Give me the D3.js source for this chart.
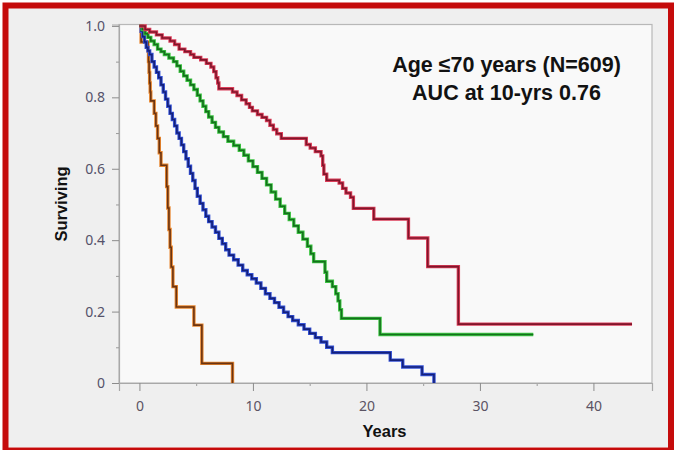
<!DOCTYPE html>
<html>
<head>
<meta charset="utf-8">
<script src="https://cdn.jsdelivr.net/npm/d3@7"></script>
<style>
  body { margin: 0; background: #ffffff; }
  svg { display: block; }
</style>
</head>
<body>
<svg id="chart" width="674" height="450"></svg>
<script>
// Kaplan–Meier survival estimates, four risk strata (time in years, survival fraction)
const orangeYears = [0, 0.15, 0.75, 0.8, 0.85, 0.9, 0.95, 1.0, 1.3, 1.45, 1.6, 1.75, 1.9, 2.4, 2.5, 2.6, 2.7, 2.8, 2.95, 3.25, 4.8, 5.5, 8.2];
const orangeSurv  = [1.0, 0.955, 0.93, 0.90, 0.87, 0.84, 0.815, 0.79, 0.755, 0.72, 0.685, 0.645, 0.61, 0.55, 0.49, 0.43, 0.38, 0.325, 0.27, 0.213, 0.162, 0.055, 0.0];

const blueYears = [0, 0.15, 0.3, 0.45, 0.6, 0.75, 0.9, 1.1, 1.3, 1.5, 1.7, 1.9, 2.1, 2.3, 2.5, 2.7, 2.9, 3.1, 3.3, 3.5, 3.7, 3.9, 4.1, 4.3, 4.5, 4.7, 4.9, 5.1, 5.35, 5.6, 5.85, 6.1, 6.4, 6.7, 7.0, 7.3, 7.6, 7.9, 8.3, 8.7, 9.1, 9.5, 9.9, 10.3, 10.7, 11.1, 11.5, 11.9, 12.3, 12.7, 13.1, 13.5, 14.0, 14.5, 15.0, 15.5, 16.0, 16.5, 17.0, 22.1, 23.2, 24.9, 25.95];
const blueSurv  = [1.0, 0.985, 0.97, 0.955, 0.94, 0.93, 0.92, 0.90, 0.885, 0.87, 0.855, 0.835, 0.815, 0.795, 0.775, 0.755, 0.738, 0.72, 0.70, 0.685, 0.667, 0.648, 0.628, 0.607, 0.587, 0.567, 0.545, 0.523, 0.503, 0.485, 0.467, 0.452, 0.437, 0.422, 0.405, 0.39, 0.373, 0.358, 0.345, 0.33, 0.315, 0.303, 0.292, 0.28, 0.265, 0.25, 0.237, 0.225, 0.212, 0.198, 0.186, 0.175, 0.163, 0.151, 0.139, 0.127, 0.115, 0.10, 0.085, 0.064, 0.045, 0.024, 0.0];

const greenYears = [0, 0.25, 0.5, 0.75, 1.0, 1.3, 1.6, 1.9, 2.2, 2.6, 3.0, 3.3, 3.6, 3.9, 4.2, 4.5, 4.8, 5.1, 5.35, 5.6, 5.85, 6.1, 6.4, 6.7, 7.0, 7.4, 7.8, 8.3, 8.8, 9.2, 9.6, 10.0, 10.4, 10.8, 11.2, 11.6, 12.0, 12.4, 12.8, 13.2, 13.6, 14.0, 14.4, 14.8, 15.1, 15.35, 16.35, 16.5, 17.0, 17.3, 17.5, 17.65, 17.8, 21.2, 34.7];
const greenSurv  = [1.0, 0.99, 0.978, 0.968, 0.958, 0.948, 0.935, 0.928, 0.92, 0.91, 0.90, 0.888, 0.873, 0.86, 0.848, 0.835, 0.822, 0.806, 0.79, 0.775, 0.76, 0.745, 0.73, 0.716, 0.703, 0.69, 0.677, 0.665, 0.652, 0.638, 0.622, 0.606, 0.59, 0.573, 0.555, 0.535, 0.515, 0.495, 0.475, 0.458, 0.44, 0.422, 0.403, 0.383, 0.362, 0.34, 0.31, 0.285, 0.27, 0.25, 0.23, 0.205, 0.181, 0.136, 0.136];

const redYears = [0, 0.5, 0.9, 1.5, 2.0, 2.7, 3.1, 3.5, 4.0, 4.5, 4.8, 5.4, 5.9, 6.3, 6.55, 6.75, 6.9, 7.0, 8.2, 8.6, 9.0, 9.4, 9.7, 9.95, 10.4, 10.8, 11.2, 11.5, 11.8, 12.1, 12.5, 14.7, 15.05, 15.5, 16.0, 16.15, 16.25, 16.5, 17.6, 17.9, 18.2, 18.6, 18.85, 20.65, 23.7, 25.4, 28.1, 43.4];
const redSurv  = [1.0, 0.99, 0.983, 0.975, 0.966, 0.958, 0.948, 0.935, 0.928, 0.92, 0.912, 0.905, 0.895, 0.885, 0.872, 0.855, 0.84, 0.824, 0.815, 0.805, 0.793, 0.782, 0.772, 0.762, 0.752, 0.744, 0.735, 0.722, 0.71, 0.698, 0.685, 0.668, 0.658, 0.648, 0.636, 0.61, 0.585, 0.568, 0.56, 0.545, 0.532, 0.52, 0.489, 0.459, 0.406, 0.326, 0.165, 0.165];

// Axis ticks
const xTickValues = [0, 10, 20, 30, 40];
const xMinorTickValues = [5, 15, 25, 35];
const yTickValues = [0, 0.2, 0.4, 0.6, 0.8, 1.0];
const yTickLabels = ["0", "0.2", "0.4", "0.6", "0.8", "1.0"];
const yMinorTickValues = [0.1, 0.3, 0.5, 0.7, 0.9];

// Titles
const xTitle = "Years";
const yTitle = "Surviving";
const noteLines = ["Age \u226470 years (N=609)", "AUC at 10-yrs 0.76"];

// Stroke styles per stratum: a light outer stroke under a darker core
const strata = [
  { years: orangeYears, surv: orangeSurv, edge: "#e8862e", core: "#6b3412" },
  { years: blueYears,   surv: blueSurv,   edge: "#3552d6", core: "#14207a" },
  { years: greenYears,  surv: greenSurv,  edge: "#3dc443", core: "#14701c" },
  { years: redYears,    surv: redSurv,    edge: "#dc3e5a", core: "#80162b" }
];

const svg = d3.select("#chart");
const W = 674, H = 450;

// Outer panel and red frame
svg.append("rect").attr("x", 6).attr("y", 6).attr("width", W - 12).attr("height", H - 9)
  .attr("fill", "#efefef");
svg.append("rect").attr("x", 5.5).attr("y", 5.5).attr("width", W - 8.5).attr("height", H - 5)
  .attr("fill", "none").attr("stroke", "#c50b0b").attr("stroke-width", 6);

// Plot area
const plot = { left: 119, right: 652, top: 24.5, bottom: 383 };
const x = d3.scaleLinear().domain([-1.8, 45.16]).range([plot.left, plot.right]);
const y = d3.scaleLinear().domain([0, 1.004]).range([plot.bottom, plot.top]);

svg.append("rect")
  .attr("x", plot.left).attr("y", plot.top)
  .attr("width", plot.right - plot.left).attr("height", plot.bottom - plot.top)
  .attr("fill", "#f9f9f9").attr("stroke", "#b8b8b8").attr("stroke-width", 1.2);

// Minor ticks
svg.append("g").attr("transform", `translate(0,${plot.bottom})`)
  .call(d3.axisBottom(x).tickValues(xMinorTickValues).tickSize(3).tickFormat(""))
  .call(g => g.select(".domain").remove())
  .call(g => g.selectAll("line").attr("stroke", "#9a9a9a"));
svg.append("g").attr("transform", `translate(${plot.left},0)`)
  .call(d3.axisLeft(y).tickValues(yMinorTickValues).tickSize(3).tickFormat(""))
  .call(g => g.select(".domain").remove())
  .call(g => g.selectAll("line").attr("stroke", "#9a9a9a"));

// Major axes
const tickFont = "'Noto Sans', 'Liberation Sans', sans-serif";
svg.append("g").attr("transform", `translate(0,${plot.bottom})`)
  .call(d3.axisBottom(x).tickValues(xTickValues).tickSize(8).tickPadding(10).tickFormat(d3.format("d")))
  .call(g => g.select(".domain").attr("stroke", "#a8a8a8").attr("stroke-width", 1.2))
  .call(g => g.selectAll("line").attr("stroke", "#8c8c8c"))
  .call(g => g.selectAll("text").attr("fill", "#5b5363").style("font-family", tickFont).style("font-size", "14px"));
svg.append("g").attr("transform", `translate(${plot.left},0)`)
  .call(d3.axisLeft(y).tickValues(yTickValues).tickSize(7).tickPadding(7).tickFormat((d, i) => yTickLabels[i]))
  .call(g => g.select(".domain").attr("stroke", "#a8a8a8").attr("stroke-width", 1.2))
  .call(g => g.selectAll("line").attr("stroke", "#8c8c8c"))
  .call(g => g.selectAll("text").attr("fill", "#55526a").style("font-family", tickFont).style("font-size", "14px"));

// Axis titles
svg.append("text")
  .attr("x", (plot.left + plot.right) / 2 - 1).attr("y", 437)
  .attr("text-anchor", "middle")
  .style("font-family", "'Liberation Sans', Arial, sans-serif")
  .style("font-weight", "bold").style("font-size", "16.5px")
  .attr("fill", "#111").text(xTitle);
svg.append("text")
  .attr("transform", `translate(67,204) rotate(-90)`)
  .attr("text-anchor", "middle")
  .style("font-family", "'Liberation Sans', Arial, sans-serif")
  .style("font-weight", "bold").style("font-size", "16.5px")
  .attr("fill", "#111").text(yTitle);

// Survival step curves
const line = d3.line()
  .x(d => x(d[0]))
  .y(d => y(d[1]))
  .curve(d3.curveStepAfter);

const curves = svg.append("g");
strata.forEach(s => {
  const pts = s.years.map((t, i) => [t, s.surv[i]]);
  curves.append("path").datum(pts).attr("d", line)
    .attr("fill", "none").attr("stroke", s.edge).attr("stroke-width", 3.4)
    .attr("stroke-linejoin", "miter");
  curves.append("path").datum(pts).attr("d", line)
    .attr("fill", "none").attr("stroke", s.core).attr("stroke-width", 1.6)
    .attr("stroke-linejoin", "miter");
});

// Annotation
const note = svg.append("text")
  .attr("text-anchor", "middle")
  .style("font-family", "'Liberation Sans', Arial, sans-serif")
  .style("font-weight", "bold").style("font-size", "21.5px")
  .attr("fill", "#121212");
note.selectAll("tspan").data(noteLines).join("tspan")
  .attr("x", 506.5)
  .attr("y", (d, i) => 72 + i * 27.5)
  .text(d => d);
</script>
</body>
</html>
